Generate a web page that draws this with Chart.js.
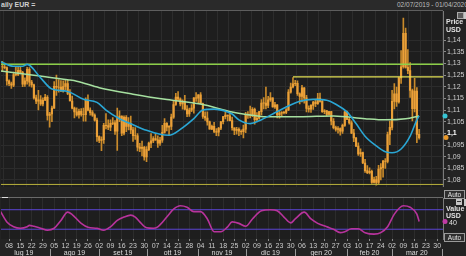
<!DOCTYPE html>
<html>
<head>
<meta charset="utf-8">
<script src="https://cdn.jsdelivr.net/npm/chart.js@4.4.0/dist/chart.umd.min.js"></script>
<style>
  body { margin: 0; width: 466px; height: 256px; overflow: hidden; position: relative; background: #232323;
         font-family: "Liberation Sans", Arial, sans-serif; }
  canvas { position: absolute; left: 0; }
  .t { position: absolute; white-space: nowrap; font-size: 7px; line-height: 8px; color: #e2e2e2; }
  .r { position: absolute; }
  .auto { position: absolute; left: 444px; width: 19px; height: 7px; border: 1px solid #9a9a9a; background: #2e2e2e;
          font-size: 6.5px; line-height: 7px; color: #e6e6e6; text-align: center; }
</style>
</head>
<body>
<div class="r" style="left:0;top:0;width:466px;height:10px;background:#2a2a2a"></div>
<div class="r" style="left:0;top:10px;width:443px;height:1px;background:#5e5e5e"></div>
<div class="t" style="left:1px;top:1px;font-weight:bold;color:#cfcfcf">aily EUR =</div>
<div class="t" style="left:397px;top:1px;font-size:6.5px;color:#bdbdbd">02/07/2019 - 01/04/2020 (GMT)</div>

<canvas id="price" width="466" height="192" style="top:0"></canvas>
<canvas id="osc" width="466" height="63" style="top:193px"></canvas>

<div class="t" style="left:446px;top:18px;font-weight:bold">Price</div>
<div class="t" style="left:446px;top:26px;font-weight:bold">USD</div>
<div class="r" style="left:457px;top:12px;width:5px;height:5px;border:1px solid #aaa;background:#5a5a5a"></div>
<div class="r" style="left:464px;top:12px;width:3px;height:7px;background:#c8c8c8"></div>
<div class="auto" style="top:190px">Auto</div>
<div class="r" style="left:0;top:197px;width:443px;height:1px;background:#6a6a6a"></div>
<div class="r" style="left:2px;top:197px;width:6px;height:1px;background:#dddddd"></div>
<div class="r" style="left:456px;top:199px;width:6px;height:6px;background:#c4c4c4"></div>
<div class="r" style="left:457px;top:201px;width:4px;height:1px;background:#333"></div>
<div class="r" style="left:464px;top:199px;width:3px;height:7px;background:#c8c8c8"></div>
<div class="t" style="left:446px;top:205px;font-weight:bold">Value</div>
<div class="t" style="left:446px;top:212px;font-weight:bold">USD</div>
<div class="t" style="left:449px;top:219px">40</div>
<div class="auto" style="top:233px">Auto</div>

<script>
// trading-day index 0 = 02/07/2019 (weekdays only)
const weekDays = ['08','15','22','29','05','12','19','26','02','09','16','23','30','07','14','21','28','04','11','18',
  '25','02','09','16','23','30','06','13','20','27','03','10','17','24','02','09','16','23','30'];
const months = ['lug 19','ago 19','set 19','ott 19','nov 19','dic 19','gen 20','feb 20','mar 20'];
const monthStart = [-1, 22, 44, 65, 88, 109, 131, 154, 174, 196];
const priceTicks = [1.08,1.085,1.09,1.095,1.1,1.105,1.11,1.115,1.12,1.125,1.13,1.135,1.14];

const opens = [1.1287,1.1286,1.1285,1.1282,1.1225,1.1213,1.1207,1.1252,1.1253,1.1270,
  1.1262,1.1211,1.1225,1.1275,1.1220,1.1208,1.1152,1.1138,1.1144,1.1126,
  1.1142,1.1155,1.1077,1.1083,1.1108,1.1202,1.1198,1.1199,1.1181,1.1201,
  1.1214,1.1171,1.1139,1.1108,1.1092,1.1079,1.1095,1.1081,1.1080,1.1142,
  1.1100,1.1089,1.1078,1.1057,1.0986,1.0970,1.0973,1.1034,1.1033,1.1027,
  1.1043,1.1045,1.1009,1.1064,1.1074,1.1001,1.1069,1.1030,1.1043,1.1015,
  1.0990,1.0990,1.0941,1.0935,1.0940,1.0899,1.0930,1.0958,1.0968,1.0978,
  1.0972,1.0958,1.0971,1.1004,1.1043,1.1027,1.1030,1.1070,1.1124,1.1156,
  1.1147,1.1126,1.1134,1.1104,1.1083,1.1100,1.1108,1.1152,1.1151,1.1165,
  1.1128,1.1073,1.1066,1.1049,1.1018,1.1030,1.1008,1.1005,1.1022,1.1050,
  1.1072,1.1078,1.1075,1.1055,1.1024,1.1013,1.1017,1.1009,1.1007,1.1018,
  1.1078,1.1081,1.1077,1.1103,1.1059,1.1065,1.1093,1.1130,1.1130,1.1120,
  1.1144,1.1152,1.1113,1.1122,1.1079,1.1087,1.1089,1.1090,1.1101,1.1177,
  1.1199,1.1213,1.1215,1.1170,1.1159,1.1195,1.1152,1.1107,1.1104,1.1120,
  1.1134,1.1127,1.1151,1.1137,1.1093,1.1097,1.1081,1.1093,1.1052,1.1025,
  1.1017,1.1021,1.1009,1.1034,1.1092,1.1060,1.1045,1.1001,1.0980,1.0945,
  1.0912,1.0918,1.0873,1.0840,1.0831,1.0837,1.0790,1.0802,1.0790,1.0847,
  1.0853,1.0881,1.0880,1.0995,1.1026,1.1137,1.1170,1.1135,1.1238,1.1286,
  1.1429,1.1283,1.1269,1.1184,1.1106,1.1181,1.0996];
const highs = [1.1321,1.1309,1.1302,1.1285,1.1230,1.1220,1.1263,1.1285,1.1287,1.1284,
  1.1266,1.1238,1.1283,1.1282,1.1228,1.1211,1.1164,1.1185,1.1162,1.1153,
  1.1167,1.1162,1.1090,1.1117,1.1222,1.1250,1.1231,1.1227,1.1225,1.1230,
  1.1230,1.1188,1.1160,1.1113,1.1110,1.1104,1.1106,1.1108,1.1153,1.1165,
  1.1110,1.1098,1.1084,1.1066,1.0990,1.0985,1.1043,1.1085,1.1058,1.1058,
  1.1068,1.1055,1.1109,1.1097,1.1075,1.1075,1.1076,1.1068,1.1074,1.1027,
  1.1025,1.0999,1.0957,1.0967,1.0944,1.0943,1.0963,1.0999,1.0986,1.1000,
  1.0989,1.0983,1.1034,1.1063,1.1046,1.1033,1.1083,1.1140,1.1172,1.1179,
  1.1152,1.1144,1.1163,1.1119,1.1108,1.1124,1.1154,1.1175,1.1166,1.1175,
  1.1130,1.1092,1.1092,1.1053,1.1036,1.1047,1.1021,1.1026,1.1052,1.1073,
  1.1090,1.1079,1.1093,1.1070,1.1024,1.1026,1.1024,1.1015,1.1036,1.1090,
  1.1094,1.1117,1.1111,1.1109,1.1089,1.1095,1.1145,1.1154,1.1199,1.1159,
  1.1175,1.1153,1.1133,1.1124,1.1095,1.1093,1.1095,1.1106,1.1188,1.1216,
  1.1239,1.1228,1.1225,1.1174,1.1206,1.1197,1.1163,1.1118,1.1124,1.1138,
  1.1147,1.1172,1.1173,1.1143,1.1102,1.1099,1.1095,1.1095,1.1063,1.1031,
  1.1029,1.1024,1.1040,1.1096,1.1096,1.1068,1.1054,1.1017,1.0983,1.0959,
  1.0934,1.0920,1.0889,1.0862,1.0852,1.0842,1.0812,1.0816,1.0863,1.0870,
  1.0884,1.0892,1.1006,1.1053,1.1185,1.1214,1.1199,1.1242,1.1355,1.1495,
  1.1452,1.1359,1.1304,1.1190,1.1236,1.1197,1.1017];
const lows = [1.1280,1.1265,1.1277,1.1207,1.1205,1.1193,1.1200,1.1247,1.1248,1.1255,
  1.1200,1.1201,1.1211,1.1202,1.1198,1.1147,1.1127,1.1101,1.1120,1.1118,
  1.1140,1.1057,1.1027,1.1050,1.1107,1.1163,1.1177,1.1180,1.1177,1.1188,
  1.1166,1.1141,1.1105,1.1066,1.1074,1.1065,1.1074,1.1052,1.1052,1.1096,
  1.1078,1.1073,1.1052,1.0965,1.0960,1.0926,1.0957,1.1019,1.1016,1.1012,
  1.1037,1.0996,1.0927,1.1050,1.0990,1.0993,1.1007,1.1015,1.0999,1.0966,
  1.0974,1.0925,1.0921,1.0903,1.0885,1.0879,1.0926,1.0939,1.0960,1.0970,
  1.0940,1.0948,1.0961,1.1001,1.1011,1.0991,1.1016,1.1064,1.1120,1.1140,
  1.1118,1.1104,1.1101,1.1072,1.1073,1.1093,1.1087,1.1137,1.1129,1.1125,
  1.1064,1.1056,1.1035,1.1018,1.1016,1.1003,1.0990,1.0989,1.1016,1.1041,
  1.1062,1.1053,1.1053,1.1014,1.0994,1.0997,1.0990,1.0996,1.0981,1.1003,
  1.1064,1.1066,1.1072,1.1040,1.1051,1.1061,1.1079,1.1105,1.1105,1.1110,
  1.1137,1.1112,1.1107,1.1066,1.1065,1.1075,1.1083,1.1085,1.1097,1.1172,
  1.1195,1.1205,1.1163,1.1126,1.1135,1.1130,1.1092,1.1091,1.1090,1.1103,
  1.1115,1.1124,1.1134,1.1090,1.1084,1.1075,1.1078,1.1036,1.1019,1.1009,
  1.1001,1.0992,1.1000,1.1030,1.1059,1.1039,1.0999,1.0964,1.0943,1.0905,
  1.0901,1.0870,1.0833,1.0827,1.0826,1.0785,1.0786,1.0778,1.0784,1.0800,
  1.0812,1.0850,1.0873,1.0952,1.1015,1.1105,1.1116,1.1130,1.1214,1.1280,
  1.1280,1.1256,1.1154,1.1053,1.1092,1.0960,1.0975];
const closes = [1.1286,1.1285,1.1282,1.1225,1.1213,1.1207,1.1252,1.1253,1.1270,1.1262,
  1.1211,1.1225,1.1275,1.1220,1.1208,1.1152,1.1138,1.1144,1.1126,1.1142,
  1.1155,1.1077,1.1083,1.1108,1.1202,1.1198,1.1199,1.1181,1.1201,1.1214,
  1.1171,1.1139,1.1108,1.1092,1.1079,1.1095,1.1081,1.1080,1.1142,1.1100,
  1.1089,1.1078,1.1057,1.0986,1.0970,1.0973,1.1034,1.1033,1.1027,1.1043,
  1.1045,1.1009,1.1064,1.1074,1.1001,1.1069,1.1030,1.1043,1.1015,1.0990,
  1.0990,1.0941,1.0935,1.0940,1.0899,1.0930,1.0958,1.0968,1.0978,1.0972,
  1.0958,1.0971,1.1004,1.1043,1.1027,1.1030,1.1070,1.1124,1.1156,1.1147,
  1.1126,1.1134,1.1104,1.1083,1.1100,1.1108,1.1152,1.1151,1.1165,1.1128,
  1.1073,1.1066,1.1049,1.1018,1.1030,1.1008,1.1005,1.1022,1.1050,1.1072,
  1.1078,1.1075,1.1055,1.1024,1.1013,1.1017,1.1009,1.1007,1.1018,1.1078,
  1.1081,1.1077,1.1103,1.1059,1.1065,1.1093,1.1130,1.1130,1.1120,1.1144,
  1.1152,1.1113,1.1122,1.1079,1.1087,1.1089,1.1090,1.1101,1.1177,1.1199,
  1.1213,1.1215,1.1170,1.1159,1.1195,1.1152,1.1107,1.1104,1.1120,1.1134,
  1.1127,1.1151,1.1137,1.1093,1.1097,1.1081,1.1093,1.1052,1.1025,1.1017,
  1.1021,1.1009,1.1034,1.1092,1.1060,1.1045,1.1001,1.0980,1.0945,1.0912,
  1.0918,1.0873,1.0840,1.0831,1.0837,1.0790,1.0802,1.0790,1.0847,1.0853,
  1.0881,1.0880,1.0995,1.1026,1.1137,1.1170,1.1135,1.1238,1.1286,1.1429,
  1.1283,1.1269,1.1184,1.1106,1.1181,1.0996,1.0982];

// moving averages
const fastMaDay = [0,6,10,12,18,23,30,37,43,47,53,59,65,71,75,80,86,90,95,101,103,106,111,115,121,127,133,139,145,149,154,158,162,167,171,174,178,182,185,186];
const fastMa = [1.1308,1.1288,1.1288,1.1296,1.1238,1.1190,1.1180,1.1146,1.1133,1.1100,1.1063,1.1037,1.1013,1.0996,1.0992,1.1017,1.1063,1.1100,1.1104,1.1092,
  1.1083,1.1058,1.1042,1.1054,1.1083,1.1113,1.1138,1.1146,1.1142,1.1125,1.1092,1.1042,1.0988,1.0946,1.0921,1.0917,1.0933,1.0988,1.1058,1.1075];
const slowMaDay = [0,15,30,34,44,59,74,89,103,111,118,133,148,162,171,180,186];
const slowMa = [1.1268,1.1249,1.1230,1.1224,1.1196,1.1168,1.1145,1.1126,1.1092,1.1079,1.1071,1.1071,1.1075,1.1063,1.1058,1.1063,1.1075];

const topLevel = 1.1297;
const midLevel = 1.1242, midLevelFrom = 130;
const lowLevel = 1.0781;

const rsiDay = [0,3,6,9,12,13,15,18,21,24,27,30,32,36,39,43,46,49,52,55,58,60,62,65,68,70,74,77,80,83,86,89,92,95,98,101,103,106,109,112,
  116,120,123,126,129,131,135,138,141,145,148,151,153,156,159,162,166,169,172,175,179,182,185,186];
const rsi = [68,45,35,32,35,38,36,32,28,32,48,65,60,42,34,32,28,35,48,55,59,55,45,33,32,35,55,71,78,75,66,66,51,25,25,35,45,42,36,51,
  68,70,68,55,43,51,65,51,42,35,30,23,25,31,31,23,20,23,35,61,78,75,61,46];
const rsiLevels = [70, 30];

const xMin = 0.4, xMax = 196.6;
const weekIdx = weekDays.map((d, i) => 4 + 5 * i);
const gridCol = '#2c2c2c';
const fam = '"Liberation Sans", Arial, sans-serif';

const bgPlugin = {
  id: 'bg',
  beforeDraw(c) {
    const { ctx, chartArea: a } = c;
    ctx.save();
    ctx.fillStyle = '#1e1e1e';
    ctx.fillRect(a.left, a.top, a.right - a.left, a.bottom - a.top);
    ctx.restore();
  }
};

function dot(ctx, x, y, col) {
  ctx.save();
  ctx.fillStyle = col;
  ctx.beginPath();
  ctx.arc(x, y, 2.5, 0, Math.PI * 2);
  ctx.fill();
  ctx.restore();
}

const hline = (v, from) => [{ x: from, y: v }, { x: xMax, y: v }];
const pts = (xs, ys) => xs.map((x, i) => ({ x, y: ys[i] }));

const bodies = closes.map((c, i) => {
  const lo = Math.min(opens[i], c), hi = Math.max(opens[i], c);
  return { x: i, y: [lo, hi === lo ? hi + 0.0001 : hi] };
});
const wicks = closes.map((c, i) => ({ x: i, y: [Math.min(lows[i], opens[i], c), Math.max(highs[i], opens[i], c)] }));

const lineDs = (data, color, w, order) => ({
  type: 'line', data, borderColor: color, borderWidth: w, pointRadius: 0,
  tension: 0.4, cubicInterpolationMode: 'monotone', order
});

new Chart(document.getElementById('price'), {
  type: 'bar',
  data: {
    datasets: [
      lineDs(pts(fastMaDay, fastMa), '#2aa6d4', 1.6, 0),
      lineDs(pts(slowMaDay, slowMa), '#a6e0a0', 1.5, 0),
      lineDs(hline(topLevel, xMin), '#8ccf48', 1.5, 1),
      lineDs(hline(midLevel, midLevelFrom), '#e2e055', 1.3, 1),
      lineDs(hline(lowLevel, xMin), '#b9b23c', 1, 1),
      { data: bodies, backgroundColor: '#eba038', barThickness: 1.5, grouped: false, order: 2 },
      { data: wicks, backgroundColor: '#c98a2a', barThickness: 1, grouped: false, order: 3 }
    ]
  },
  options: {
    responsive: false, animation: false, devicePixelRatio: 1,
    layout: { padding: { top: 11, left: 1, right: 0, bottom: 0 } },
    plugins: { legend: { display: false }, tooltip: { enabled: false } },
    scales: {
      x: {
        type: 'linear', min: xMin, max: xMax, offset: false,
        afterBuildTicks: s => { s.ticks = weekIdx.map(v => ({ value: v })); },
        afterFit: s => { s.height = 0; },
        ticks: { display: false },
        grid: { color: gridCol, drawTicks: false },
        border: { display: false }
      },
      y: {
        position: 'right', min: 1.07708, max: 1.1525,
        afterBuildTicks: s => { s.ticks = priceTicks.map(v => ({ value: v })); },
        afterFit: s => { s.width = 23; },
        ticks: {
          padding: 1,
          color: ctx => ctx.tick && ctx.tick.value === 1.1 ? '#ffffff' : '#cfcfcf',
          font: ctx => ({ family: fam, size: 7, weight: ctx.tick && ctx.tick.value === 1.1 ? 'bold' : 'normal' }),
          callback: v => String(+v.toFixed(3)).replace('.', ',')
        },
        grid: { color: gridCol, tickColor: '#8a8a8a', tickLength: 3 },
        border: { color: '#7a7a7a' }
      }
    }
  },
  plugins: [bgPlugin, {
    id: 'lastMarks',
    afterDraw(c) {
      const y = c.scales.y, x = c.chartArea.right;
      dot(c.ctx, x + 2, y.getPixelForValue(fastMa[fastMa.length - 1]), '#37c6d6');
      dot(c.ctx, x + 3, y.getPixelForValue(closes[closes.length - 1]), '#e8982a');
    }
  }]
});

new Chart(document.getElementById('osc'), {
  type: 'line',
  data: {
    datasets: [
      lineDs(pts(rsiDay, rsi), '#b8339c', 1.6, 0),
      lineDs(hline(rsiLevels[0], xMin), '#5b44d2', 1, 1),
      lineDs(hline(rsiLevels[1], xMin), '#5b44d2', 1, 1)
    ]
  },
  options: {
    responsive: false, animation: false, devicePixelRatio: 1,
    layout: { padding: { top: 5, left: 1, right: 0, bottom: 0 } },
    plugins: { legend: { display: false }, tooltip: { enabled: false } },
    scales: {
      x: {
        type: 'linear', min: xMin, max: xMax, offset: false,
        afterBuildTicks: s => { s.ticks = weekIdx.map(v => ({ value: v })); },
        afterFit: s => { s.height = 17; },
        ticks: {
          autoSkip: false, maxRotation: 0, padding: 1, color: '#cccccc',
          font: { family: fam, size: 7 },
          callback: (v, i) => weekDays[i]
        },
        grid: { color: gridCol, tickColor: '#8a8a8a', tickLength: 2 },
        border: { display: false }
      },
      y: {
        position: 'right', min: 10, max: 94,
        afterFit: s => { s.width = 23; },
        ticks: { display: false },
        grid: { display: false },
        border: { color: '#7a7a7a' }
      }
    }
  },
  plugins: [bgPlugin, {
    id: 'months',
    afterDraw(c) {
      const { ctx } = c, xs = c.scales.x, a = c.chartArea;
      ctx.save();
      ctx.font = '7px ' + fam;
      ctx.fillStyle = '#dddddd';
      ctx.textAlign = 'center';
      ctx.textBaseline = 'middle';
      months.forEach((m, i) => {
        const mid = (monthStart[i] + monthStart[i + 1]) / 2;
        ctx.fillText(m, xs.getPixelForValue(mid), 60);
      });
      ctx.strokeStyle = '#9a9a9a';
      ctx.lineWidth = 1;
      monthStart.slice(1).forEach(d => {
        const px = Math.round(xs.getPixelForValue(d)) + 0.5;
        ctx.beginPath();
        ctx.moveTo(px, 56);
        ctx.lineTo(px, 63);
        ctx.stroke();
      });
      const ys = c.scales.y;
      dot(ctx, a.right + 2, ys.getPixelForValue(rsi[rsi.length - 1]), '#c23aa6');
      ctx.restore();
    }
  }]
});
</script>
</body>
</html>
